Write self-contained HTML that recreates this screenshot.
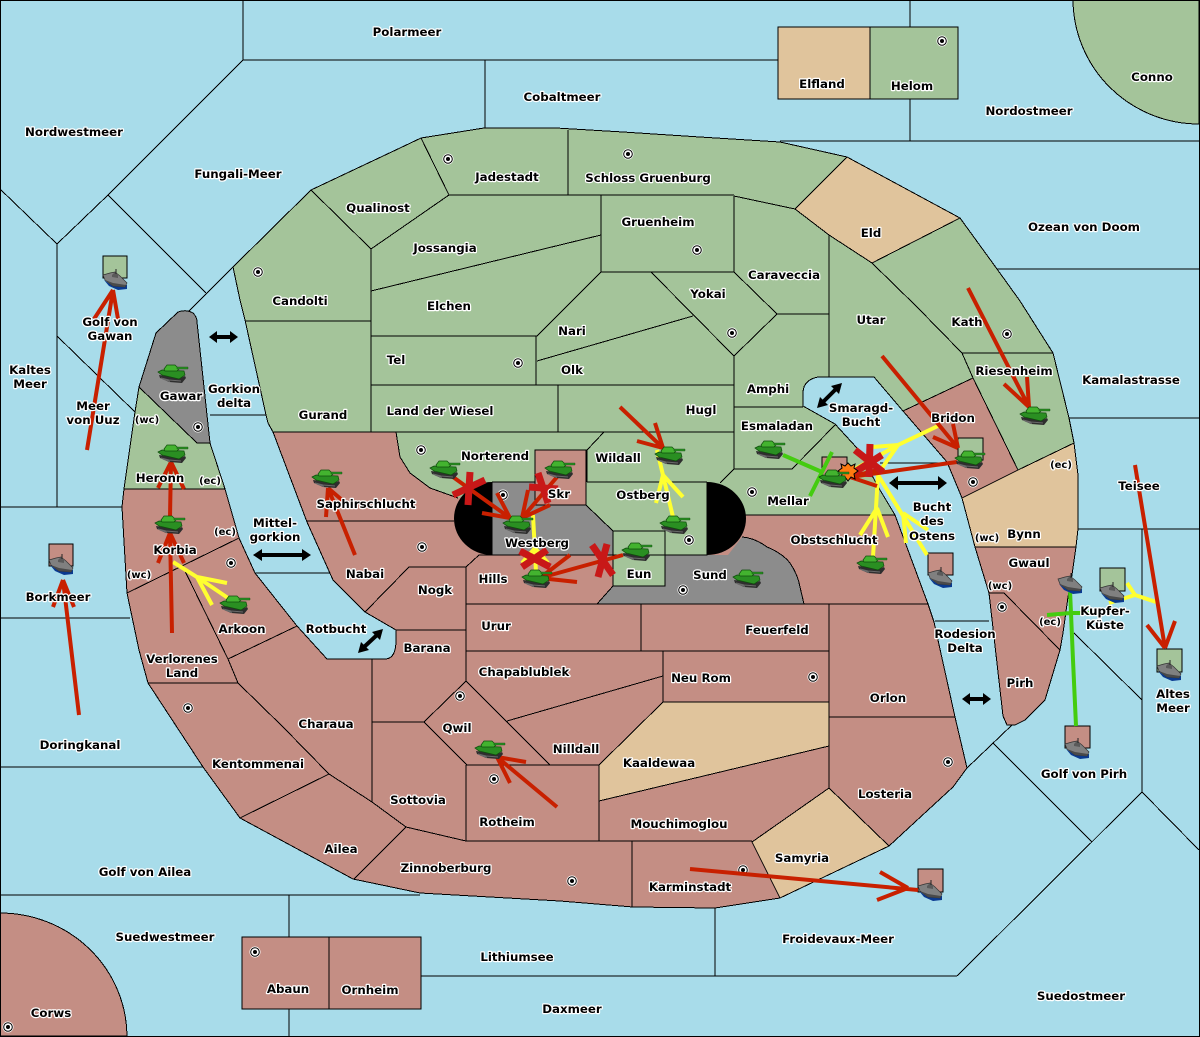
<!DOCTYPE html>
<html><head><meta charset="utf-8"><title>Map</title>
<style>
html,body{margin:0;padding:0;background:#a8dcea}
svg{display:block}
.l{fill:none;stroke:#000;stroke-width:1;shape-rendering:crispEdges}
.b{stroke:#000;stroke-width:1;shape-rendering:crispEdges}
text{font-family:"DejaVu Sans","Liberation Sans",sans-serif;font-weight:700;font-size:11.8px;text-anchor:middle;fill:#000;stroke:#fff;stroke-width:2.4px;paint-order:stroke;stroke-linejoin:round}
.r{fill:none;stroke:#c82000;stroke-width:4}
.x{fill:none;stroke:#c81818;stroke-width:7}
.y{fill:none;stroke:#ffff30;stroke-width:4}
.g{fill:none;stroke:#44cc10;stroke-width:4}
.k{fill:none;stroke:#000;stroke-width:4}
</style></head><body>
<svg width="1200" height="1037" viewBox="0 0 1200 1037" xmlns="http://www.w3.org/2000/svg">
<defs>
<g id="t">
<path d="M-14,1 L7,4 L12,2 L13,4 L9,9 L-4,8 L-13,4Z" fill="#2e2e2e"/>
<path d="M-12,4 L-4,6 L8,7 M-10,5 L-3,7.5" stroke="#6a6a6a" stroke-width="1" fill="none"/>
<path d="M-15,-2 L-11,-4 L11,-3 L12,1 L6,5 L-11,1Z" fill="#2a8f22" stroke="#0f4d0c" stroke-width=".7"/>
<path d="M-9,-5 L-6,-9 L2,-9 L6,-5 L4,-3 L-8,-3Z" fill="#43b32f" stroke="#0f4d0c" stroke-width=".7"/>
<path d="M4,-7 H15 V-5 H4Z" fill="#2a8f22" stroke="#0f4d0c" stroke-width=".4"/>
</g>
<g id="s">
<path d="M-11,1 L-2,7 L12,6 L12,10 L3,11 L-6,7Z" fill="#0a3a90"/>
<path d="M-12,-4 L-5,-6 L0,-7 L5,-3 L12,4 L10,8 L-2,7 L-10,1Z" fill="#808080" stroke="#333" stroke-width=".7"/>
<path d="M-10,1 L-2,4 L11,6 L10,8 L-2,7Z" fill="#4a4a4a"/>
<path d="M-3,-4 L0,-7 L3,-5 L3,-1 L-3,-2Z" fill="#5a5a5a"/>
<path d="M1,-10 V-5" stroke="#222" stroke-width="1"/>
</g>
<g id="d">
<circle r="5.5" fill="#fff"/>
<circle r="4.3" fill="#fff" stroke="#000" stroke-width="1"/>
<circle r="2" fill="#000"/>
</g>
</defs>

<rect x="0" y="0" width="1200" height="1037" fill="#a8dcea"/>

<!-- corner islands -->
<path class="b" d="M1073,0 A126,125 0 0 0 1199,124 L1199,0Z" fill="#a4c49a"/>
<path class="b" d="M0,913 A127,124 0 0 1 127,1036 L0,1036Z" fill="#c48e84"/>

<!-- sea lines -->
<path class="l" d="M0.5,0.5H1199.5V1036.5H0.5Z
M243,0V60H778
M485,60V128
M780,141H1199
M910,0V27 M910,99V141
M243,60L108,195L57,244L0,189
M108,195L206,293
M233,267L188,312
M57,244V507
M57,336L135,412
M0,507H122
M0,618H130
M0,767H203
M0,895H420
M289,895V937 M289,1009V1036
M421,976H957
M715,908V976
M1142,792L957,976
M993,743L1092,842
M1142,529V792 M1142,792L1199,850
M1074,633L1142,700
M1078,529H1199
M1069,418H1199
M997,269H1199
M210,415H266
M255,573H330
M935,621H989
M880,463H945
M1012,725L967,768"/>

<!-- land base -->
<path fill="#c48e84" d="M233,267 L311,190 400,148 421,138 484,128 556,128 623,132 700,137 780,142 847,157 960,218 997,269 1020,301 1053,353 1069,418 1074,443 1078,475 1078,529 1076,547 1072,575 1068,597 1063,633 1060,650 1045,700 1025,720 1015,725 1007,725 1003,716 989,593 975,547 962,498 947,462 903,411 874,377 818,377 Q803,380 803,393 L803,406 835,424 857,448 880,490 895,515 928,604 934,622 955,717 967,768 953,787 889,846 780,898 715,908 633,907 560,901 420,893 353,879 240,818 203,767 148,683 139,650 127,593 122,507 124,489 135,412 139,387 156,333 178,312 Q186,309 193,313 Q197,317 197,322 L210,443 225,489 239,538 255,573 297,626 327,659 385,659 Q396,659 396,640 L396,630 365,612 333,580 307,522 273,432 268,423 266,415 245,320 240,300Z"/>

<!-- green mainland -->
<path fill="#a4c49a" d="M233,267 L311,190 400,148 421,138 484,128 556,128 623,132 700,137 780,142 847,157 795,209 829,235 872,263 960,218 997,269 1020,301 1053,353 1069,418 1074,443 1018,470 973,378 903,411 874,377 818,377 Q803,380 803,393 L803,406 835,424 857,448 880,490 895,515 745,515 707,555 665,555 665,531 613,531 586,505 586,450 535,450 535,482 492,482 458,498 430,488 410,473 400,457 396,432 273,432 268,423 266,415 245,320 240,300Z"/>
<!-- tan -->
<path fill="#e0c49c" d="M847,157 L960,218 872,263 829,235 795,209Z"/>
<path fill="#e0c49c" d="M962,498 L1018,470 1074,443 1078,475 1078,529 1076,547 975,547Z"/>
<path fill="#e0c49c" d="M663,702 H829 V746 L599,801 V765Z"/>
<path fill="#e0c49c" d="M829,788 L889,846 780,898 752,842Z"/>
<!-- gawar/heronn -->
<path fill="#8c8c8c" d="M139,387 L156,333 178,312 Q186,309 193,313 Q197,317 197,322 L210,443 197,443Z"/>
<path fill="#a4c49a" d="M139,387 L197,443 210,443 225,489 124,489 135,412Z"/>
<!-- westberg / sund / eun -->
<path fill="#8c8c8c" d="M492,482 H535 V505 H586 L613,531 V555 H492Z"/>
<path fill="#8c8c8c" d="M665,555 H728 L742,537 Q755,538 767,547 Q782,553 790,563 Q798,575 800,587 L804,604 H597 L613,586 H665Z"/>
<rect x="613" y="531" width="52" height="55" fill="#a4c49a"/>
<path fill="#a4c49a" d="M586,482 H707 V555 H665 V531 H613 L586,505Z"/>

<!-- coast -->
<path class="l" d="M233,267 L311,190 400,148 421,138 484,128 556,128 623,132 700,137 780,142 847,157 960,218 997,269 1020,301 1053,353 1069,418 1074,443 1078,475 1078,529 1076,547 1072,575 1068,597 1063,633 1060,650 1045,700 1025,720 1015,725 1007,725 1003,716 989,593 975,547 962,498 947,462 903,411 874,377 818,377 Q803,380 803,393 L803,406 835,424 857,448 880,490 895,515 928,604 934,622 955,717 967,768 953,787 889,846 780,898 715,908 633,907 560,901 420,893 353,879 240,818 203,767 148,683 139,650 127,593 122,507 124,489 135,412 139,387 156,333 178,312 Q186,309 193,313 Q197,317 197,322 L210,443 225,489 239,538 255,573 297,626 327,659 385,659 Q396,659 396,640 L396,630 365,612 333,580 307,522 273,432 268,423 266,415 245,320 240,300Z"/>

<!-- interior lines -->
<path class="l" d="
M311,190L371,249L449,195L421,138
M245,321H371
M371,249V432
M449,195H734
M568,130V195
M601,195V272H734 M734,196V272
M734,196L795,209
M847,157L795,209
M371,291L601,235
M371,336H537L601,272
M536,336V385
M371,385H734
M537,361L693,316
M651,272L734,356L777,314L734,272
M777,314H829
M829,235V377
M734,356V469H792L835,425
M734,407H803
M558,385V432
M273,432H396
M396,432H734
M604,432L587,450V482
M396,432L400,457 410,473 430,488 458,498
M492,482H535 M587,482H707
M734,469L720,483
M745,515H895
M795,209L829,235 872,263L960,218
M872,263L917,307 962,353 973,378
M962,353H1053
M903,411L973,378L1018,470
M962,498L1018,470L1074,443
M975,547H1076
M989,593H1004L1060,650
M492,482V555H707V482
M535,450H586V505H535Z
M586,505L613,531
M613,531H665V586H613Z
M742,537Q755,538 767,547Q782,553 790,563Q798,575 800,587L804,604
M613,586L597,604
M466,604H928
M139,387L197,443H210
M124,489H225
M127,593L239,538
M183,567L228,659
M148,683H238L228,659L297,626
M238,683L283,727 329,774 372,802 406,827
M329,774L240,818
M406,827L354,879
M307,521H454
M365,612L409,567H466L479,555
M479,555H492
M466,567V681
M396,630H466
M372,659V802
M372,722H424
M466,681L424,722L467,765
M466,681L550,765
M663,676L507,721
M641,604V651
M466,651H829
M663,651V702H829
M829,604V788
M829,717H955
M829,746L599,801
M599,765V841
M466,765H599
M599,765L663,702
M466,765V841
M406,827L466,841H752
M632,841V907
M829,788L889,846
M829,788L752,842L780,898
"/>

<!-- black caps -->
<path d="M492,482 A38,36.5 0 0 0 492,555Z" fill="#000"/>
<path d="M707,482 A39,36.5 0 0 1 707,555Z" fill="#000"/>

<!-- boxes -->
<rect class="b" x="778" y="27" width="92" height="72" fill="#e0c49c"/>
<rect class="b" x="870" y="27" width="88" height="72" fill="#a4c49a"/>
<rect class="b" x="242" y="937" width="87" height="72" fill="#c48e84"/>
<rect class="b" x="329" y="937" width="92" height="72" fill="#c48e84"/>

<!-- unit squares -->
<rect class="b" x="103" y="256" width="24" height="22" fill="#a4c49a"/>
<rect class="b" x="49" y="544" width="24" height="22" fill="#c48e84"/>
<rect class="b" x="928" y="553" width="25" height="22" fill="#c48e84"/>
<rect class="b" x="1100" y="568" width="25" height="23" fill="#a4c49a"/>
<rect class="b" x="1157" y="649" width="25" height="23" fill="#a4c49a"/>
<rect class="b" x="1065" y="726" width="25" height="22" fill="#c48e84"/>
<rect class="b" x="918" y="869" width="25" height="23" fill="#c48e84"/>
<rect class="b" x="958" y="438" width="25" height="22" fill="#a4c49a"/>
<rect class="b" x="822" y="457" width="25" height="21" fill="#c48e84"/>

<!-- supply centres -->
<g>
<use href="#d" x="448" y="159"/><use href="#d" x="628" y="154"/><use href="#d" x="697" y="250"/><use href="#d" x="942" y="41"/>
<use href="#d" x="258" y="272"/><use href="#d" x="518" y="363"/><use href="#d" x="732" y="333"/><use href="#d" x="1007" y="334"/>
<use href="#d" x="198" y="427"/><use href="#d" x="421" y="450"/><use href="#d" x="503" y="495"/><use href="#d" x="689" y="540"/>
<use href="#d" x="752" y="492"/><use href="#d" x="973" y="482"/><use href="#d" x="231" y="563"/><use href="#d" x="422" y="547"/>
<use href="#d" x="683" y="590"/><use href="#d" x="1002" y="607"/><use href="#d" x="813" y="677"/><use href="#d" x="948" y="762"/>
<use href="#d" x="460" y="696"/><use href="#d" x="188" y="708"/><use href="#d" x="494" y="779"/><use href="#d" x="572" y="881"/>
<use href="#d" x="743" y="870"/><use href="#d" x="255" y="952"/><use href="#d" x="8" y="1027"/>
</g>

<!-- double arrows -->
<g>
<path class="k" d="M215,337H232"/><path d="M209,337L217,331V343Z M238,337L230,331V343Z"/>
<path class="k" d="M260,555H304"/><path d="M253,555L262,549V561Z M311,555L302,549V561Z"/>
<path class="k" d="M363,648L378,634" stroke-width="3"/><path d="M358,653L361,642 369,650Z M383,629L372,632 380,640Z"/>
<path class="k" d="M822,403L837,388"/><path d="M817,408L820,397 828,405Z M842,383L831,386 839,394Z"/>
<path class="k" d="M896,483H940"/><path d="M889,483L898,476V490Z M947,483L938,476V490Z"/>
<path class="k" d="M968,699H985"/><path d="M962,699L970,693V705Z M991,699L983,693V705Z"/>
</g>

<!-- yellow orders -->
<g class="y">
<path d="M228,598L197,577L173,562 M197,577L227,583 M197,577L212,605"/>
<path d="M536,572L533,515 M535,548L522,563 M535,548L548,563"/>
<path d="M673,517L657,450 M663,475L656,503 M663,475L683,497"/>
<path d="M855,469L898,445L940,425 M898,445L873,447 M898,445L882,468"/>
<path d="M873,557L878,475 M877,508L860,535 M877,508L888,537"/>
<path d="M927,555L878,475 M903,513L906,543 M903,513L928,530"/>
<path d="M1156,602L1135,595L1127,583 M1135,595L1109,603"/>
</g>

<!-- green orders -->
<g class="g">
<path d="M783,455L822,472 M822,472L810,496 M822,472L832,452"/>
<path d="M1076,726L1073,660 1070,590 M1071,613L1047,615 M1071,613L1090,613"/>
</g>

<!-- red orders -->
<g class="r">
<path d="M87,450L113,290 M113,290L94,319 M113,290L118,319"/>
<path d="M79,715L63,580 M63,580L53,607 M63,580L74,607"/>
<path d="M170,517L171,462 M171,462L158,488 M171,462L184,489"/>
<path d="M172,633L170,533 M170,533L158,563 M170,533L184,563"/>
<path d="M355,555L328,488 M328,488L326,517 M328,488L342,500"/>
<path d="M453,477L510,518 M510,518L497,493 M510,518L482,513"/>
<path d="M557,477L522,518 M522,518L528,490 M522,518L550,505"/>
<path d="M623,555L540,578 M540,578L570,555 M540,578L577,582"/>
<path d="M620,407L663,448 M663,448L655,423 M663,448L637,441"/>
<path d="M957,462L850,477 M850,477L877,486 M850,477L878,470"/>
<path d="M882,356L958,448 M958,448L953,424 M958,448L933,437"/>
<path d="M968,288L1029,407 M1029,407L1027,377 M1029,407L1004,384"/>
<path d="M1135,465L1165,648 M1165,648L1147,625 M1165,648L1175,621"/>
<path d="M690,869L918,890 M908,888L880,872 M908,888L877,900"/>
<path d="M557,807L497,757 M497,757L526,762 M497,757L510,783"/>
</g>

<!-- crosses -->
<g class="x">
<path d="M470,472L468,505 M453,495L485,480"/>
<path d="M538,473L548,503 M529,487L558,489"/>
<path d="M592,545L613,575 M607,544L598,577"/>
<path d="M520,551L550,567 M547,550L522,567"/>
<path d="M870,444L869,477 M855,450L883,472 M855,472L882,455"/>
</g>

<!-- explosion -->
<path d="M848,463L851,466 855,464 854,468 858,471 854,474 855,479 851,477 848,481 845,477 841,479 842,474 838,471 842,468 841,464 845,466Z" fill="#ff7a10" stroke="#000" stroke-width="1"/>

<!-- tanks -->
<g>
<use href="#t" x="173" y="374"/><use href="#t" x="173" y="454"/><use href="#t" x="170" y="525"/><use href="#t" x="235" y="605"/>
<use href="#t" x="327" y="479"/><use href="#t" x="445" y="470"/><use href="#t" x="560" y="470"/><use href="#t" x="518" y="525"/>
<use href="#t" x="537" y="579"/><use href="#t" x="637" y="552"/><use href="#t" x="670" y="456"/><use href="#t" x="675" y="525"/>
<use href="#t" x="748" y="579"/><use href="#t" x="770" y="450"/><use href="#t" x="834" y="479"/><use href="#t" x="970" y="460"/>
<use href="#t" x="1035" y="416"/><use href="#t" x="872" y="565"/><use href="#t" x="490" y="750"/>
</g>
<!-- ships -->
<g>
<use href="#s" x="115" y="279"/><use href="#s" x="61" y="564"/><use href="#s" x="940" y="577"/><use href="#s" x="1070" y="583"/>
<use href="#s" x="1112" y="592"/><use href="#s" x="1169" y="670"/><use href="#s" x="1077" y="748"/><use href="#s" x="930" y="890"/>
</g>

<!-- labels -->
<g>
<text x="407" y="36">Polarmeer</text>
<text x="562" y="101">Cobaltmeer</text>
<text x="822" y="88">Elfland</text>
<text x="912" y="90">Helom</text>
<text x="1152" y="81">Conno</text>
<text x="1029" y="115">Nordostmeer</text>
<text x="74" y="136">Nordwestmeer</text>
<text x="238" y="178">Fungali-Meer</text>
<text x="507" y="181">Jadestadt</text>
<text x="648" y="182">Schloss Gruenburg</text>
<text x="378" y="212">Qualinost</text>
<text x="658" y="226">Gruenheim</text>
<text x="871" y="237">Eld</text>
<text x="1084" y="231">Ozean von Doom</text>
<text x="445" y="252">Jossangia</text>
<text x="784" y="279">Caraveccia</text>
<text x="708" y="298">Yokai</text>
<text x="300" y="305">Candolti</text>
<text x="449" y="310">Elchen</text>
<text x="871" y="324">Utar</text>
<text x="967" y="326">Kath</text>
<text x="110" y="326">Golf von</text>
<text x="110" y="340">Gawan</text>
<text x="572" y="335">Nari</text>
<text x="396" y="364">Tel</text>
<text x="572" y="374">Olk</text>
<text x="1014" y="375">Riesenheim</text>
<text x="30" y="374">Kaltes</text>
<text x="30" y="388">Meer</text>
<text x="1131" y="384">Kamalastrasse</text>
<text x="181" y="400">Gawar</text>
<text x="234" y="393">Gorkion</text>
<text x="234" y="407">delta</text>
<text x="768" y="393">Amphi</text>
<text x="93" y="410">Meer</text>
<text x="93" y="424">von Uuz</text>
<text x="147" y="423" style="font-size:10px">(wc)</text>
<text x="440" y="415">Land der Wiesel</text>
<text x="701" y="414">Hugl</text>
<text x="323" y="419">Gurand</text>
<text x="953" y="422">Bridon</text>
<text x="861" y="412">Smaragd-</text>
<text x="861" y="426">Bucht</text>
<text x="777" y="430">Esmaladan</text>
<text x="495" y="460">Norterend</text>
<text x="618" y="462">Wildall</text>
<text x="160" y="482">Heronn</text>
<text x="210" y="484" style="font-size:10px">(ec)</text>
<text x="1061" y="468" style="font-size:10px">(ec)</text>
<text x="1139" y="490">Teisee</text>
<text x="643" y="499">Ostberg</text>
<text x="559" y="498">Skr</text>
<text x="788" y="505">Mellar</text>
<text x="366" y="508">Saphirschlucht</text>
<text x="932" y="511">Bucht</text>
<text x="932" y="525">des</text>
<text x="932" y="540">Ostens</text>
<text x="275" y="527">Mittel-</text>
<text x="275" y="541">gorkion</text>
<text x="225" y="535" style="font-size:10px">(ec)</text>
<text x="1024" y="538">Bynn</text>
<text x="987" y="541" style="font-size:10px">(wc)</text>
<text x="834" y="544">Obstschlucht</text>
<text x="537" y="547">Westberg</text>
<text x="175" y="554">Korbia</text>
<text x="1029" y="567">Gwaul</text>
<text x="365" y="578">Nabai</text>
<text x="639" y="578">Eun</text>
<text x="493" y="583">Hills</text>
<text x="710" y="579">Sund</text>
<text x="139" y="578" style="font-size:10px">(wc)</text>
<text x="1000" y="589" style="font-size:10px">(wc)</text>
<text x="435" y="594">Nogk</text>
<text x="58" y="601">Borkmeer</text>
<text x="1105" y="615">Kupfer-</text>
<text x="1105" y="629">Küste</text>
<text x="1050" y="625" style="font-size:10px">(ec)</text>
<text x="496" y="630">Urur</text>
<text x="777" y="634">Feuerfeld</text>
<text x="336" y="633">Rotbucht</text>
<text x="242" y="633">Arkoon</text>
<text x="965" y="638">Rodesion</text>
<text x="965" y="652">Delta</text>
<text x="427" y="652">Barana</text>
<text x="182" y="663">Verlorenes</text>
<text x="182" y="677">Land</text>
<text x="524" y="676">Chapablublek</text>
<text x="701" y="682">Neu Rom</text>
<text x="1020" y="687">Pirh</text>
<text x="1173" y="698">Altes</text>
<text x="1173" y="712">Meer</text>
<text x="888" y="702">Orlon</text>
<text x="326" y="728">Charaua</text>
<text x="457" y="732">Qwil</text>
<text x="258" y="768">Kentommenai</text>
<text x="80" y="749">Doringkanal</text>
<text x="576" y="753">Nilldall</text>
<text x="659" y="767">Kaaldewaa</text>
<text x="1084" y="778">Golf von Pirh</text>
<text x="885" y="798">Losteria</text>
<text x="418" y="804">Sottovia</text>
<text x="507" y="826">Rotheim</text>
<text x="679" y="828">Mouchimoglou</text>
<text x="341" y="853">Ailea</text>
<text x="802" y="862">Samyria</text>
<text x="446" y="872">Zinnoberburg</text>
<text x="145" y="876">Golf von Ailea</text>
<text x="690" y="891">Karminstadt</text>
<text x="838" y="943">Froidevaux-Meer</text>
<text x="165" y="941">Suedwestmeer</text>
<text x="517" y="961">Lithiumsee</text>
<text x="288" y="993">Abaun</text>
<text x="370" y="994">Ornheim</text>
<text x="1081" y="1000">Suedostmeer</text>
<text x="572" y="1013">Daxmeer</text>
<text x="51" y="1017">Corws</text>
</g>
</svg>
</body></html>
